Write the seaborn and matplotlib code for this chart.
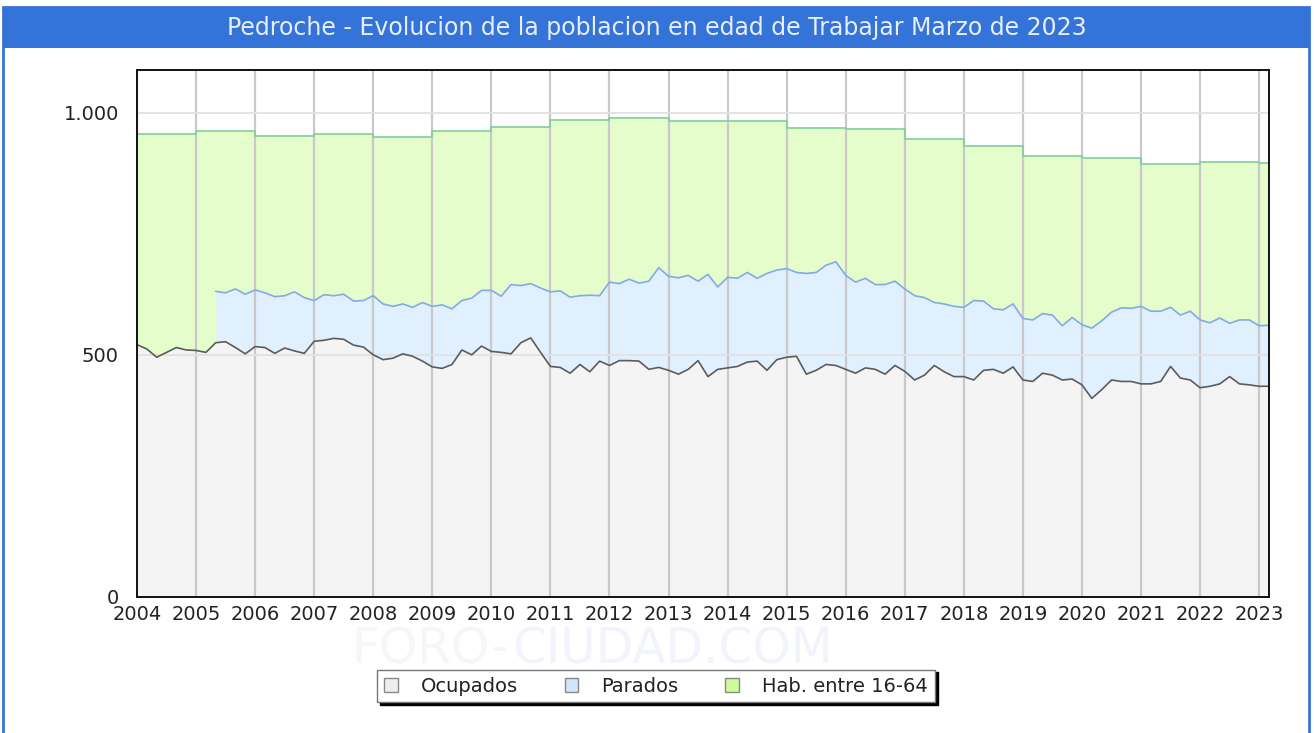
import numpy as np
import pandas as pd
import matplotlib
matplotlib.use("Agg")
import matplotlib.pyplot as plt
from matplotlib.patches import Patch, Rectangle
import seaborn as sns

# ── datos (cada 2 meses, ene-2004 .. mar-2023) ─────────────────────
ocupados = [
    521, 512, 495, 505, 515, 510,   # 2004
    509, 505, 525, 527, 515, 502,   # 2005
    517, 515, 503, 514, 508, 503,   # 2006
    528, 530, 534, 532, 520, 516,   # 2007
    500, 490, 493, 502, 497, 487,   # 2008
    475, 472, 480, 510, 500, 518,   # 2009
    507, 505, 502, 525, 535, 505,   # 2010
    476, 474, 462, 480, 465, 487,   # 2011
    478, 488, 488, 487, 470, 474,   # 2012
    468, 460, 470, 488, 455, 470,   # 2013
    473, 476, 485, 487, 468, 490,   # 2014
    495, 497, 460, 468, 480, 478,   # 2015
    470, 462, 473, 470, 460, 478,   # 2016
    466, 448, 458, 478, 465, 455,   # 2017
    455, 448, 468, 470, 462, 475,   # 2018
    448, 445, 462, 458, 448, 450,   # 2019
    438, 410, 428, 448, 445, 445,   # 2020
    440, 440, 445, 476, 452, 448,   # 2021
    432, 435, 440, 455, 440, 438,   # 2022
    435, 435,                       # 2023
]

parados = [
    None, None, None, None, None, None,   # 2004
    None, None, 106, 101, 121, 123,       # 2005
    117, 113, 117, 108, 122, 115,         # 2006
    84, 94, 88, 93, 91, 96,               # 2007
    122, 115, 107, 103, 101, 121,         # 2008
    125, 131, 115, 102, 117, 115,         # 2009
    126, 116, 143, 118, 112, 133,         # 2010
    154, 158, 157, 142, 158, 135,         # 2011
    172, 159, 168, 161, 182, 206,         # 2012
    194, 199, 194, 164, 211, 170,         # 2013
    187, 182, 185, 171, 200, 185,         # 2014
    183, 173, 208, 202, 205, 214,         # 2015
    194, 188, 185, 175, 185, 174,         # 2016
    170, 174, 160, 130, 140, 145,         # 2017
    143, 164, 143, 125, 131, 130,         # 2018
    127, 127, 123, 124, 112, 127,         # 2019
    124, 145, 142, 140, 152, 151,         # 2020
    160, 150, 145, 122, 130, 142,         # 2021
    140, 131, 136, 110, 132, 134,         # 2022
    125, 126,                             # 2023
]

anios = list(range(2004, 2024))
hab_16_64 = [956, 963, 952, 956, 950, 963, 970, 985, 988, 983,
             983, 969, 967, 946, 932, 911, 907, 893, 899, 895]

# ── preparar ───────────────────────────────────────────────────────
fechas = pd.date_range("2004-01-01", periods=len(ocupados), freq="2MS")
x = fechas.year + (fechas.month - 1) / 12
ocu = np.array(ocupados, dtype=float)
par = np.array([np.nan if v is None else v for v in parados], dtype=float)
total = ocu + par
hab_map = dict(zip(anios, hab_16_64))
hab = np.array([hab_map[y] for y in fechas.year], dtype=float)

df = pd.DataFrame({"x": x, "ocupados": ocu, "total": total, "hab": hab})

C_GRIS, C_AZUL, C_VERDE = "#f4f4f4", "#e1f0fe", "#e5fccb"

sns.set_theme(style="white")
plt.rcParams["font.family"] = ["DejaVu Sans"]

fig = plt.figure(figsize=(13.14, 7.33), dpi=100)

# marca de agua (detrás de todo)
fig.text(508 / 1314, 1 - 649 / 733, "FORO-", ha="right", va="center",
         fontsize=35, color="#f6f6f6", zorder=0)
fig.text(512 / 1314, 1 - 649 / 733, "CIUDAD.COM", ha="left", va="center",
         fontsize=35, color="#f2f4fd", zorder=0)

ax = fig.add_axes([137 / 1314, 1 - 597 / 733, (1269 - 137) / 1314, (597 - 70) / 733])
ax.set_zorder(2)
ax.patch.set_alpha(0)

ax.fill_between(df["x"], 0, df["hab"], step="post", color=C_VERDE, lw=0, zorder=0.5)
ax.fill_between(df["x"], 0, df["total"], color=C_AZUL, lw=0, zorder=0.6)
ax.fill_between(df["x"], 0, df["ocupados"], color=C_GRIS, lw=0, zorder=0.7)

sns.lineplot(data=df, x="x", y="hab", ax=ax, color="#7fcf9c", lw=1.2,
             drawstyle="steps-post", zorder=3)
sns.lineplot(data=df, x="x", y="total", ax=ax, color="#82aae8", lw=1.2, zorder=3)
sns.lineplot(data=df, x="x", y="ocupados", ax=ax, color="#5c5c5c", lw=1.2, zorder=3)

ax.set_xlim(anios[0], df["x"].iloc[-1])
ax.set_ylim(0, 1088)
ax.set_xticks(anios)
ax.set_xticklabels([str(a) for a in anios])
yt = [0, 500, 1000]
ax.set_yticks(yt)
ax.set_yticklabels([f"{v:,}".replace(",", ".") for v in yt])
ax.set_xlabel("")
ax.set_ylabel("")
ax.tick_params(axis="both", length=0, labelsize=14, colors="#222222")
ax.tick_params(axis="y", pad=13)
ax.tick_params(axis="x", pad=6)

ax.set_axisbelow(False)
ax.xaxis.grid(True, color="#c9c9c9", lw=1.6)
ax.yaxis.grid(True, color="#e2e2e2", lw=1.3)
for s in ax.spines.values():
    s.set_color("#111111")
    s.set_linewidth(1.4)
    s.set_zorder(4)

# barra de título y marco
fig.patches.append(Rectangle((3 / 1314, 1 - 48 / 733), 1306 / 1314, 41 / 733,
                             transform=fig.transFigure, facecolor="#3473d8",
                             edgecolor="none", zorder=-1))
fig.patches.append(Rectangle((3 / 1314, -0.02), 1306 / 1314, 1.02 - 7 / 733,
                             transform=fig.transFigure, facecolor="none",
                             edgecolor="#3473d8", lw=2, zorder=-1))
fig.text(0.5, 1 - 28 / 733, "Pedroche - Evolucion de la poblacion en edad de Trabajar Marzo de 2023",
         ha="center", va="center", fontsize=17, color="#e8eef9")

handles = [
    Patch(facecolor="#eeeeee", edgecolor="#888888", label="Ocupados"),
    Patch(facecolor="#cfe6fd", edgecolor="#888888", label="Parados"),
    Patch(facecolor="#ccfc9a", edgecolor="#888888", label="Hab. entre 16-64"),
]
leg = fig.legend(handles=handles, loc="center", bbox_to_anchor=(656 / 1314, 1 - 686 / 733),
                 ncol=3, fontsize=14, frameon=True, fancybox=False,
                 shadow={"color": "black", "alpha": 1}, handlelength=0.7,
                 handleheight=0.7, handletextpad=1.2, columnspacing=2.4,
                 borderpad=0.35, labelcolor="#222222")
leg.get_frame().set_edgecolor("#777777")
leg.get_frame().set_linewidth(1)
leg.set_zorder(5)

fig.savefig("out.png", dpi=100)
